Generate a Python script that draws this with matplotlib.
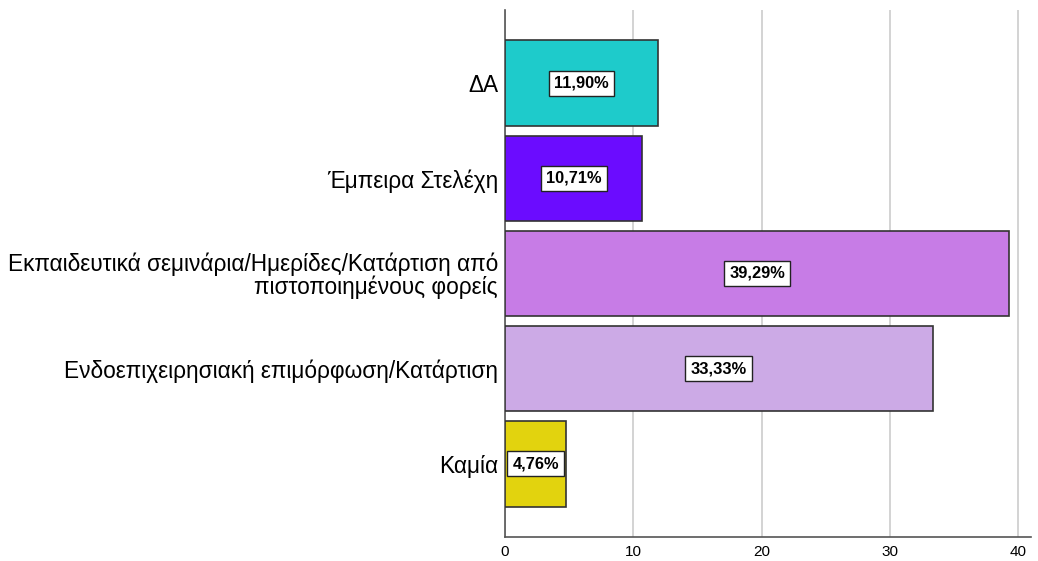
import matplotlib
matplotlib.use("Agg")
import matplotlib.pyplot as plt

categories = ["ΔΑ", "Έμπειρα Στελέχη",
              "Εκπαιδευτικά σεμινάρια/Ημερίδες/Κατάρτιση από\nπιστοποιημένους φορείς",
              "Ενδοεπιχειρησιακή επιμόρφωση/Κατάρτιση", "Καμία"]
values = [11.90, 10.71, 39.29, 33.33, 4.76]
labels = ["11,90%", "10,71%", "39,29%", "33,33%", "4,76%"]
colors = ["#1ecbcb", "#6b0cff", "#c77ce6", "#ccaae6", "#e2d30e"]
xticks = [0, 10, 20, 30, 40]

fig = plt.figure(figsize=(10.38, 5.61), dpi=100)
ax = fig.add_axes([505/1038, 1-537/561, 526/1038, (537-10)/561])
y = list(range(len(categories)))
ax.barh(y, values, height=0.9, color=colors, edgecolor="#333333", linewidth=1.2, zorder=3)
for yi, v, lab in zip(y, values, labels):
    ax.text(v/2, yi, lab, ha="center", va="center", fontsize=11.8, fontweight="bold",
            family=["Liberation Sans Narrow", "Liberation Sans"], zorder=4,
            bbox=dict(boxstyle="square,pad=0.32", facecolor="white", edgecolor="#222222", linewidth=1))
ax.set_xlim(0, 41)
ax.set_ylim(4.77, -0.77)
ax.set_yticks(y)
ax.set_yticklabels(categories, fontsize=16.3, family="Liberation Sans", linespacing=0.95)
ax.set_xticks(xticks)
ax.set_xticklabels([str(t) for t in xticks], fontsize=11, family="Liberation Sans")
ax.tick_params(axis="y", length=0, pad=5)
ax.tick_params(axis="x", length=0, pad=6)
ax.grid(axis="x", color="#cccccc", linewidth=1.2, zorder=0)
for s in ["top", "right"]:
    ax.spines[s].set_visible(False)
ax.spines["left"].set_color("#555555")
ax.spines["bottom"].set_color("#555555")
ax.spines["left"].set_linewidth(1.2)
ax.spines["bottom"].set_linewidth(1.2)
fig.savefig("out.png", dpi=100)
